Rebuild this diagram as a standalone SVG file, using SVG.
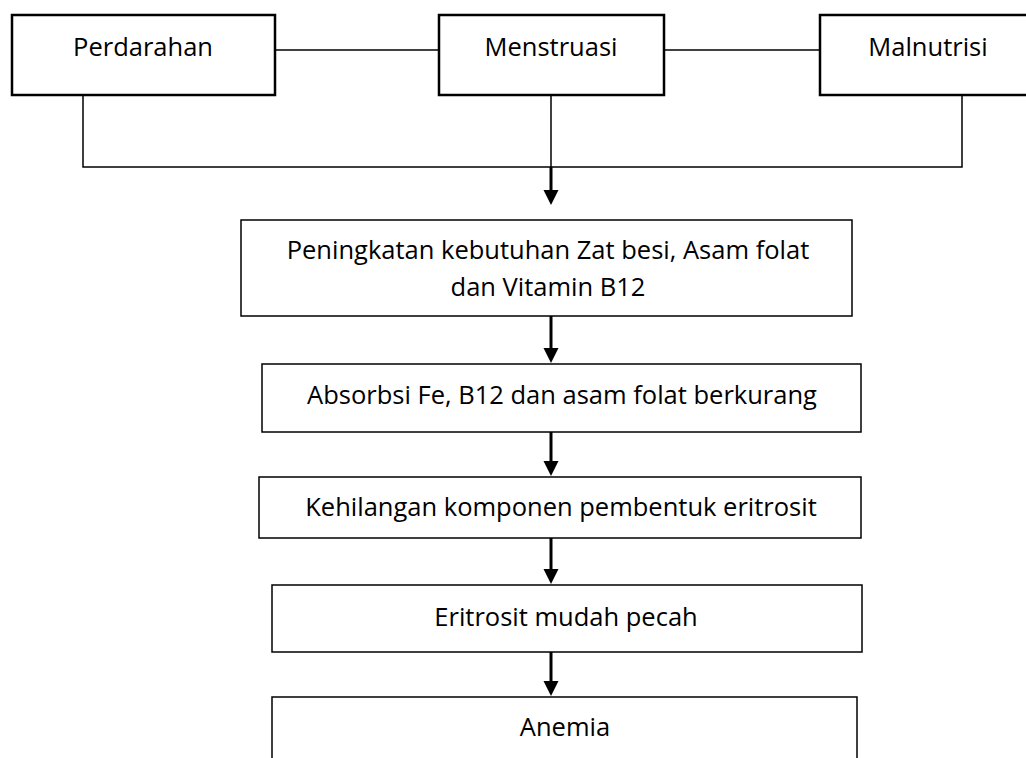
<svg xmlns="http://www.w3.org/2000/svg" width="1026" height="758" viewBox="0 0 1026 758">
<defs>
<style>
.bg{fill:#ffffff}
.top{fill:#ffffff;stroke:#000;stroke-width:2.5}
.box{fill:#ffffff;stroke:#000;stroke-width:1.5}
.ln{fill:none;stroke:#000;stroke-width:1.5}
.sh{fill:none;stroke:#000;stroke-width:3}
.ah{fill:#000;stroke:none}
text{font-family:"Open Sans","DejaVu Sans",sans-serif;font-size:25.5px;fill:#000;text-anchor:middle}
</style>
</defs>
<rect class="bg" x="0" y="0" width="1026" height="758"/>
<g id="connectors">
<line class="ln" x1="275" y1="50" x2="439" y2="50"/>
<line class="ln" x1="664" y1="50" x2="820" y2="50"/>
<polyline class="ln" points="83,95 83,167 962,167 962,95"/>
<line class="ln" x1="551" y1="95" x2="551" y2="167"/>
<line class="sh" x1="551" y1="167" x2="551" y2="192"/>
<polygon class="ah" points="543.5,190 558.5,190 551,205"/>
<line class="sh" x1="551" y1="316" x2="551" y2="350"/>
<polygon class="ah" points="543.5,348 558.5,348 551,363"/>
<line class="sh" x1="551" y1="432" x2="551" y2="463"/>
<polygon class="ah" points="543.5,461 558.5,461 551,476"/>
<line class="sh" x1="551" y1="538" x2="551" y2="571"/>
<polygon class="ah" points="543.5,569 558.5,569 551,584"/>
<line class="sh" x1="551" y1="652" x2="551" y2="683"/>
<polygon class="ah" points="543.5,681 558.5,681 551,696"/>
</g>
<g id="perdarahan">
<rect class="top" x="12" y="15" width="263" height="80"/>
<text x="143" y="56">Perdarahan</text>
</g>
<g id="menstruasi">
<rect class="top" x="439" y="15" width="225" height="80"/>
<text x="551" y="56">Menstruasi</text>
</g>
<g id="malnutrisi">
<rect class="top" x="820" y="15" width="220" height="80"/>
<text x="928" y="56">Malnutrisi</text>
</g>
<g id="peningkatan">
<rect class="box" x="241" y="220" width="611" height="96"/>
<text x="548" y="259">Peningkatan kebutuhan Zat besi, Asam folat</text>
<text x="548" y="296">dan Vitamin B12</text>
</g>
<g id="absorbsi">
<rect class="box" x="262" y="364" width="599" height="68"/>
<text x="562" y="404">Absorbsi Fe, B12 dan asam folat berkurang</text>
</g>
<g id="kehilangan">
<rect class="box" x="259" y="477" width="602" height="61"/>
<text x="561" y="516">Kehilangan komponen pembentuk eritrosit</text>
</g>
<g id="eritrosit">
<rect class="box" x="272" y="585" width="590" height="67"/>
<text x="566" y="626">Eritrosit mudah pecah</text>
</g>
<g id="anemia">
<rect class="box" x="272" y="697" width="585" height="80"/>
<text x="565" y="736">Anemia</text>
</g>
</svg>
